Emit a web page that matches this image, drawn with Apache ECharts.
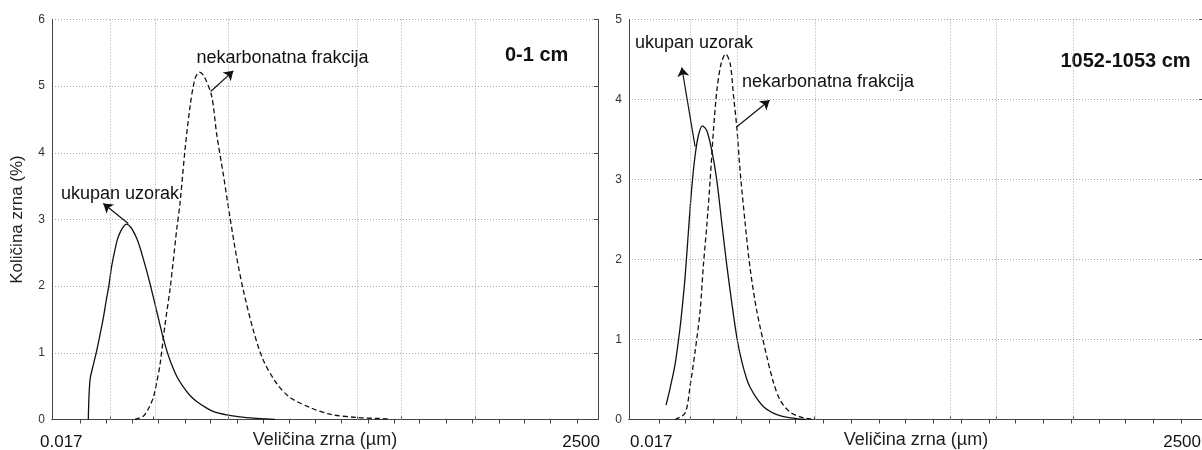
<!DOCTYPE html>
<html><head><meta charset="utf-8">
<script src="https://cdn.jsdelivr.net/npm/echarts@6/dist/echarts.min.js"></script>
<style>html,body{margin:0;padding:0;background:#fff}#c{width:1202px;height:450px}</style>
</head><body><div id="c"></div>
<script>
// ---- axis data ----
const xMin = 0.017, xMax = 2500;
const xTickLabels = ['0.017', '2500'];
const gridX = [0.0611, 0.156, 0.799, 13.3, 34.4, 171];          // vertical dotted grid lines (µm)
const topTickExp = [-1.50,-1.26,-1.01,-0.76,-0.51,-0.27,-0.02,0.23,0.48,0.72,0.97,1.22,1.47,1.71,1.96,2.21,2.46,2.70,2.95,3.20];
const yMaxA = 6, yMaxB = 5;
const panelTitles = ['0-1 cm', '1052-1053 cm'];
const seriesNames = ['ukupan uzorak', 'nekarbonatna frakcija'];

// ---- panel A (0-1 cm) ----
const aTotalX = [0.0375,0.03806,0.03915,0.04199,0.0450,0.04837,0.0520,0.0556,0.0589,0.0624,0.0686,0.0721,0.0781,0.0862,0.0951,0.1076,0.1156,0.1243,0.1338,0.1438,0.1604,0.1789,0.1921,0.2069,0.2224,0.2574,0.2972,0.3439,0.3979,0.4950,0.5929,0.7650,1.022,1.366,1.829,2.193];
const aTotalY = [0,0.35,0.62,0.83,1.03,1.27,1.52,1.80,2.02,2.30,2.62,2.74,2.86,2.93,2.88,2.72,2.58,2.41,2.23,2.04,1.73,1.42,1.22,1.04,0.89,0.65,0.49,0.36,0.27,0.17,0.11,0.07,0.04,0.02,0.01,0];
const aNonX = [0.1037,0.1243,0.1377,0.1546,0.1675,0.1789,0.1994,0.2224,0.2389,0.2574,0.2765,0.3083,0.3439,0.3835,0.4230,0.4666,0.5516,0.6152,0.7105,0.8222,0.9515,1.099,1.366,1.699,2.275,3.040,4.700,7.267,13.01,25.00,26.87];
const aNonY = [0,0.05,0.15,0.33,0.58,0.82,1.42,1.95,2.38,2.85,3.24,4.04,4.69,5.11,5.21,5.15,4.85,4.28,3.68,3.03,2.43,1.94,1.34,0.89,0.54,0.33,0.18,0.08,0.03,0.01,0];

// ---- panel B (1052-1053 cm) ----
const bTotalX = [0.03665,0.03982,0.04417,0.04901,0.05250,0.05438,0.05825,0.06248,0.06693,0.07165,0.07786,0.08534,0.09467,0.1050,0.1165,0.1293,0.1434,0.1601,0.1765,0.1957,0.2097,0.2410,0.2763,0.3176,0.3651,0.4187,0.4813,0.5528,0.6570];
const bTotalY = [0.18,0.39,0.69,1.15,1.55,1.78,2.35,2.90,3.30,3.55,3.67,3.61,3.36,2.99,2.45,1.92,1.45,1.00,0.72,0.50,0.40,0.26,0.16,0.10,0.06,0.035,0.02,0.01,0];
const bNonX = [0.04417,0.05438,0.06032,0.06693,0.07424,0.07949,0.08534,0.09140,0.09786,0.1050,0.1148,0.1260,0.1384,0.1483,0.1591,0.1703,0.1890,0.2097,0.2410,0.2967,0.3401,0.3910,0.4813,0.6342,0.8086];
const bNonY = [0,0.08,0.42,0.85,1.36,1.93,2.43,2.99,3.61,4.11,4.45,4.57,4.45,4.05,3.64,3.10,2.45,1.88,1.35,0.78,0.46,0.24,0.09,0.02,0];

// annotation arrows [from, to] in data coordinates
const arrowsA = [[[0.0896, 2.94], [0.052, 3.24]], [[0.540, 4.92], [0.884, 5.23]]];
const arrowsB = [[[0.0669, 3.41], [0.0508, 4.40]], [[0.159, 3.66], [0.3135, 3.99]]];

const zip = (xs, ys) => xs.map((x, i) => [x, ys[i]]);
const FRAME = '#444';
const GRIDLINE = {type:[1,2], color:'#a8a8a8', width:1};
const FONT = 'Arial, "Liberation Sans", sans-serif';

function bottomAxis(g) {
  return { type:'log', logBase:10, min:xMin, max:xMax, gridIndex:g, position:'bottom',
    axisLine:{show:true, lineStyle:{color:FRAME, width:1}},
    axisTick:{show:true, inside:true, length:3, customValues:gridX, lineStyle:{color:FRAME}},
    axisLabel:{show:false}, splitLine:{show:false}, minorTick:{show:false},
    name:'Veličina zrna (µm)', nameLocation:'middle', nameGap:12,
    nameTextStyle:{fontSize:18, fontFamily:FONT, color:'#222', verticalAlign:'top'} };
}
function topAxis(g) {
  return { type:'log', logBase:10, min:xMin, max:xMax, gridIndex:g, position:'top',
    axisLine:{show:true, lineStyle:{color:FRAME, width:1}},
    axisTick:{show:true, inside:true, length:4, customValues:topTickExp.map(e => Math.pow(10, e)), lineStyle:{color:FRAME}},
    axisLabel:{show:false}, splitLine:{show:false} };
}
function leftAxis(g, max, withName) {
  const ax = { type:'value', min:0, max:max, interval:1, gridIndex:g, position:'left',
    axisLine:{show:true, lineStyle:{color:FRAME, width:1}}, axisTick:{show:false},
    axisLabel:{color:'#333', fontSize:12, fontFamily:FONT, margin:7},
    splitLine:{show:true, lineStyle:GRIDLINE} };
  if (withName) {
    Object.assign(ax, { name:'Količina zrna (%)', nameLocation:'middle', nameGap:26,
      nameTextStyle:{fontSize:17, fontFamily:FONT, color:'#222'} });
  }
  return ax;
}
function rightAxis(g, max) {
  return { type:'value', min:0, max:max, interval:1, gridIndex:g, position:'right',
    axisLine:{show:true, lineStyle:{color:FRAME, width:1}},
    axisTick:{show:true, inside:true, length:4, lineStyle:{color:FRAME}},
    axisLabel:{show:false}, splitLine:{show:false} };
}
function gridSeries(xi, yi) {
  return { type:'line', xAxisIndex:xi, yAxisIndex:yi, data:[], silent:true, z:1,
    markLine:{ silent:true, symbol:['none','none'], label:{show:false},
      lineStyle:GRIDLINE, emphasis:{disabled:true},
      data: gridX.map(v => ({xAxis:v})) } };
}
function curve(name, xi, yi, data, dashed) {
  return { name, type:'line', xAxisIndex:xi, yAxisIndex:yi, data, showSymbol:false, symbol:'none',
    smooth:0.3, z:3, silent:true,
    lineStyle:{color:'#111', width:1.3, type: dashed ? [5,3] : 'solid'} };
}
function arrowSeries(xi, yi, arrows) {
  return { type:'line', xAxisIndex:xi, yAxisIndex:yi, data:[], silent:true, z:4,
    markLine:{ silent:true, symbol:['none','arrow'], symbolSize:9, label:{show:false},
      lineStyle:{type:'solid', color:'#111', width:1.2}, emphasis:{disabled:true},
      data: arrows.map(a => [{coord:a[0]}, {coord:a[1]}]) } };
}
function txt(x, y, text, size, bold, align) {
  return { type:'text', x, y, silent:true,
    style:{ text, fontSize:size, fontFamily:FONT, fontWeight: bold ? 'bold' : 'normal', fill:'#111',
      align: align || 'left', verticalAlign:'middle' } };
}

const chart = echarts.init(document.getElementById('c'), null, {renderer:'canvas'});
chart.setOption({
  animation:false,
  backgroundColor:'#fff',
  grid:[{left:52, top:19.5, width:546, height:400, containLabel:false, outerBoundsMode:'none'},
        {left:629, top:19.5, width:574, height:400, containLabel:false, outerBoundsMode:'none'}],
  xAxis:[ bottomAxis(0), topAxis(0), bottomAxis(1), topAxis(1) ],
  yAxis:[ leftAxis(0, yMaxA, true), rightAxis(0, yMaxA), leftAxis(1, yMaxB, false), rightAxis(1, yMaxB) ],
  series:[
    gridSeries(0, 0),
    curve(seriesNames[0], 0, 0, zip(aTotalX, aTotalY), false),
    curve(seriesNames[1], 0, 0, zip(aNonX, aNonY), true),
    arrowSeries(0, 0, arrowsA),
    gridSeries(2, 2),
    curve(seriesNames[0], 2, 2, zip(bTotalX, bTotalY), false),
    curve(seriesNames[1], 2, 2, zip(bNonX, bNonY), true),
    arrowSeries(2, 2, arrowsB)
  ],
  graphic:[
    txt(40, 442.5, xTickLabels[0], 17, false, 'left'),
    txt(600, 442.5, xTickLabels[1], 17, false, 'right'),
    txt(630, 442.5, xTickLabels[0], 17, false, 'left'),
    txt(1201, 442.5, xTickLabels[1], 17, false, 'right'),
    txt(61, 194, seriesNames[0], 18, false),
    txt(196.5, 58, seriesNames[1], 18, false),
    txt(505, 55, panelTitles[0], 20, true),
    txt(635, 43.5, seriesNames[0], 18, false),
    txt(742, 82.5, seriesNames[1], 18, false),
    txt(1060.5, 61, panelTitles[1], 20, true)
  ]
});
</script></body></html>
